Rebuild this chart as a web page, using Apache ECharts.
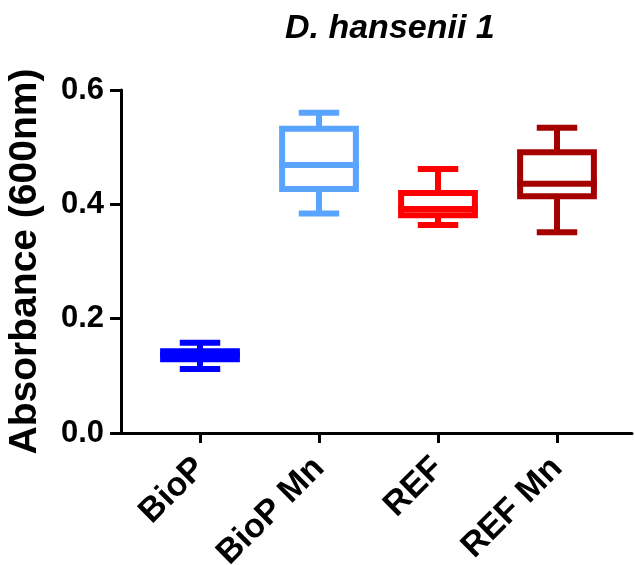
<!DOCTYPE html>
<html>
<head>
<meta charset="utf-8">
<script src="https://cdn.jsdelivr.net/npm/echarts@6/dist/echarts.min.js"></script>
<style>
  html, body { margin: 0; padding: 0; background: #fff; }
  #main { width: 635px; height: 565px; }
</style>
</head>
<body>
<div id="main"></div>
<script>
var categories = ['BioP', 'BioP Mn', 'REF', 'REF Mn'];
var whiskerLow = [0.112, 0.384, 0.364, 0.351];
var q1 = [0.129, 0.427, 0.381, 0.414];
var median = [0.137, 0.469, 0.392, 0.436];
var q3 = [0.143, 0.532, 0.420, 0.491];
var whiskerHigh = [0.158, 0.560, 0.462, 0.534];
var colors = ['#0000ff', '#59a4ff', '#ff0000', '#a40000'];
var yTicks = [0, 0.2, 0.4, 0.6];

var FONT = 'Liberation Sans';

var boxData = [];
for (var i = 0; i < categories.length; i++) {
    boxData.push([i, whiskerLow[i], q1[i], median[i], q3[i], whiskerHigh[i]]);
}

function renderBox(params, api) {
    var x = api.value(0);
    var lo = api.coord([x, api.value(1)]);
    var b1 = api.coord([x, api.value(2)]);
    var md = api.coord([x, api.value(3)]);
    var b3 = api.coord([x, api.value(4)]);
    var hi = api.coord([x, api.value(5)]);
    var band = api.size([1, 0])[0];
    var bw = band * 0.62;
    var cw = band * 0.34;
    var lw = 6;
    var c = colors[params.dataIndex];
    var cx = lo[0];
    var st = { stroke: c, lineWidth: lw, fill: null };
    return {
        type: 'group',
        children: [
            { type: 'line', shape: { x1: cx, y1: b3[1], x2: cx, y2: hi[1] }, style: st },
            { type: 'line', shape: { x1: cx, y1: b1[1], x2: cx, y2: lo[1] }, style: st },
            { type: 'line', shape: { x1: cx - cw / 2, y1: hi[1], x2: cx + cw / 2, y2: hi[1] }, style: st },
            { type: 'line', shape: { x1: cx - cw / 2, y1: lo[1], x2: cx + cw / 2, y2: lo[1] }, style: st },
            { type: 'rect', shape: { x: cx - bw / 2, y: b3[1], width: bw, height: b1[1] - b3[1] },
              style: { stroke: c, lineWidth: lw, fill: '#fff' } },
            { type: 'line', shape: { x1: cx - bw / 2 - lw / 2, y1: md[1], x2: cx + bw / 2 + lw / 2, y2: md[1] }, style: st }
        ]
    };
}

var chart = echarts.init(document.getElementById('main'));

var option = {
    animation: false,
    backgroundColor: '#fff',
    title: {
        text: 'D. hansenii 1',
        left: 280,
        top: 7,
        textStyle: { fontFamily: FONT, fontSize: 34, fontWeight: 'bold', fontStyle: 'italic', color: '#000' }
    },
    grid: [
        { left: 140.5, right: 18.5, top: 90, bottom: 132, outerBoundsMode: 'none' },
        { left: 121, right: 3, top: 90, bottom: 132, outerBoundsMode: 'none' }
    ],
    xAxis: [{
        gridIndex: 0,
        type: 'category',
        data: categories,
        axisLine: { show: false },
        axisTick: { show: true, alignWithLabel: true, length: 10, lineStyle: { color: '#000', width: 3 } },
        axisLabel: {
            rotate: 45, margin: 30, interval: 0,
            fontFamily: FONT, fontSize: 34, fontWeight: 'bold', color: '#000'
        },
        splitLine: { show: false }
    }, {
        gridIndex: 1,
        type: 'value',
        min: 0, max: 1,
        axisLine: { show: true, lineStyle: { color: '#000', width: 3 } },
        axisTick: { show: false },
        axisLabel: { show: false },
        splitLine: { show: false }
    }],
    yAxis: [{
        gridIndex: 1,
        type: 'value',
        min: 0, max: 0.6, interval: 0.2,
        name: 'Absorbance (600nm)',
        nameLocation: 'middle',
        nameGap: 76,
        nameTextStyle: { fontFamily: FONT, fontSize: 39, fontWeight: 'bold', color: '#000' },
        axisLine: { show: true, lineStyle: { color: '#000', width: 3 } },
        axisTick: { show: true, length: 11, lineStyle: { color: '#000', width: 3 } },
        axisLabel: {
            margin: 17,
            fontFamily: FONT, fontSize: 31, fontWeight: 'bold', color: '#000',
            formatter: function (v) { return yTicks.indexOf(Math.round(v * 10) / 10) >= 0 ? v.toFixed(1) : ''; }
        },
        splitLine: { show: false }
    }, {
        gridIndex: 0,
        type: 'value',
        min: 0, max: 0.6,
        show: false
    }],
    series: [{
        type: 'custom',
        xAxisIndex: 0,
        yAxisIndex: 1,
        renderItem: renderBox,
        encode: { x: 0, y: [1, 2, 3, 4, 5] },
        data: boxData,
        z: 5
    }]
};

chart.setOption(option);
window.addEventListener('resize', function () {
    chart.resize();
});
</script>
</body>
</html>
